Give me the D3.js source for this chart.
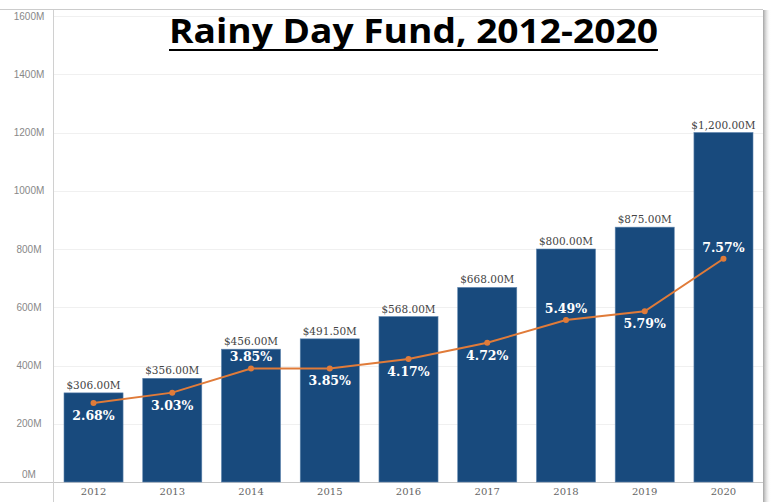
<!DOCTYPE html>
<html>
<head>
<meta charset="utf-8">
<script src="https://cdn.jsdelivr.net/npm/d3@7"></script>
<style>
  body { margin: 0; background: #fff; }
  svg { display: block; }
</style>
</head>
<body>
<svg id="chart" width="776" height="502"></svg>
<script>
const years = ['2012', '2013', '2014', '2015', '2016', '2017', '2018', '2019', '2020'];
const fundMillions = [306, 356, 456, 491.5, 568, 668, 800, 875, 1200];
const fundLabels = ['$306.00M', '$356.00M', '$456.00M', '$491.50M', '$568.00M', '$668.00M', '$800.00M', '$875.00M', '$1,200.00M'];
const pctOfBudget = [2.68, 3.03, 3.85, 3.85, 4.17, 4.72, 5.49, 5.79, 7.57];
const pctLabels = ['2.68%', '3.03%', '3.85%', '3.85%', '4.17%', '4.72%', '5.49%', '5.79%', '7.57%'];
// years whose percent label sits above the line point
const pctAbove = ['2014', '2018', '2020'];
const yTicks = [0, 200, 400, 600, 800, 1000, 1200, 1400, 1600];

const svg = d3.select('#chart');
const margin = { top: 16, right: 13, bottom: 20, left: 54 };
const width = 776, height = 502;

const x = d3.scaleBand()
  .domain(years)
  .range([margin.left, width - margin.right])
  .paddingInner(0.25)
  .paddingOuter(0.127);

const y = d3.scaleLinear()
  .domain([0, 1600])
  .range([height - margin.bottom, margin.top]);

const yPct = d3.scaleLinear()
  .domain([0, 15.8])
  .range([height - margin.bottom, margin.top]);

// shadow on the right edge
const defs = svg.append('defs');
const grad = defs.append('linearGradient').attr('id', 'shadow');
grad.append('stop').attr('offset', '0%').attr('stop-color', '#999').attr('stop-opacity', 0.9);
grad.append('stop').attr('offset', '100%').attr('stop-color', '#fff').attr('stop-opacity', 0);
svg.append('rect')
  .attr('x', width - margin.right).attr('y', 10)
  .attr('width', 8).attr('height', height - 10)
  .attr('fill', 'url(#shadow)');

// top frame line
svg.append('line')
  .attr('x1', 0).attr('x2', width - margin.right)
  .attr('y1', 9.5).attr('y2', 9.5)
  .attr('stroke', '#ccc');

// gridlines
svg.append('g')
  .selectAll('line')
  .data(yTicks.slice(1))
  .join('line')
  .attr('x1', margin.left).attr('x2', width - margin.right)
  .attr('y1', d => Math.round(y(d)) + 0.5).attr('y2', d => Math.round(y(d)) + 0.5)
  .attr('stroke', '#f0f0f0');

// y axis labels
const yAxis = svg.append('g')
  .attr('transform', `translate(${margin.left},0)`)
  .call(d3.axisLeft(y).tickValues(yTicks).tickFormat(d => d + 'M').tickSize(0).tickPadding(0));
yAxis.select('.domain').remove();
yAxis.selectAll('text')
  .attr('x', -25)
  .attr('text-anchor', 'middle')
  .attr('dy', d => d === 0 ? '-0.5em' : '0.32em')
  .attr('fill', '#888')
  .style('font-family', 'Liberation Sans, Arial, sans-serif')
  .style('font-size', '10px');

// x axis labels
const xAxis = svg.append('g')
  .attr('transform', `translate(0,${height - margin.bottom})`)
  .call(d3.axisBottom(x).tickSize(0).tickPadding(6));
xAxis.select('.domain').remove();
xAxis.selectAll('text')
  .attr('fill', '#666')
  .style('font-family', 'DejaVu Serif, serif')
  .style('font-size', '10px');

// axis lines
svg.append('line')
  .attr('x1', 0).attr('x2', width - margin.right)
  .attr('y1', y(0) + 0.5).attr('y2', y(0) + 0.5)
  .attr('stroke', '#c8c8c8');
svg.append('line')
  .attr('x1', margin.left - 0.5).attr('x2', margin.left - 0.5)
  .attr('y1', 10).attr('y2', height)
  .attr('stroke', '#d0d0d0');

// bars
svg.append('g')
  .selectAll('rect')
  .data(years)
  .join('rect')
  .attr('x', d => x(d))
  .attr('width', x.bandwidth())
  .attr('y', (d, i) => y(fundMillions[i]))
  .attr('height', (d, i) => y(0) - y(fundMillions[i]))
  .attr('fill', '#184a7d')
  .attr('stroke', '#5e84ad')
  .attr('stroke-width', 0.6);

// bar value labels
svg.append('g')
  .selectAll('text')
  .data(years)
  .join('text')
  .attr('x', d => x(d) + x.bandwidth() / 2)
  .attr('y', (d, i) => y(fundMillions[i]) - 4)
  .attr('text-anchor', 'middle')
  .attr('fill', '#444')
  .style('font-family', 'DejaVu Serif, serif')
  .style('font-size', '10.5px')
  .text((d, i) => fundLabels[i]);

// percent line
const line = d3.line()
  .x((d, i) => x(years[i]) + x.bandwidth() / 2)
  .y(d => yPct(d));

svg.append('path')
  .datum(pctOfBudget)
  .attr('fill', 'none')
  .attr('stroke', '#e07b39')
  .attr('stroke-width', 2)
  .attr('d', line);

svg.append('g')
  .selectAll('circle')
  .data(pctOfBudget)
  .join('circle')
  .attr('cx', (d, i) => x(years[i]) + x.bandwidth() / 2)
  .attr('cy', d => yPct(d))
  .attr('r', 3)
  .attr('fill', '#e07b39');

// percent labels
svg.append('g')
  .selectAll('text')
  .data(pctOfBudget)
  .join('text')
  .attr('x', (d, i) => x(years[i]) + x.bandwidth() / 2)
  .attr('y', (d, i) => yPct(d) + (pctAbove.includes(years[i]) ? -7 : 17))
  .attr('text-anchor', 'middle')
  .attr('fill', '#fff')
  .style('font-family', 'DejaVu Serif, serif')
  .style('font-weight', 'bold')
  .style('font-size', '12.5px')
  .text((d, i) => pctLabels[i]);

// title
svg.append('text')
  .attr('x', 169)
  .attr('y', 43)
  .attr('textLength', 489)
  .attr('lengthAdjust', 'spacingAndGlyphs')
  .attr('fill', '#000')
  .style('font-family', 'Open Sans, sans-serif')
  .style('font-weight', 'bold')
  .style('font-size', '34px')
  .text('Rainy Day Fund, 2012-2020');

svg.append('line')
  .attr('x1', 169).attr('x2', 658)
  .attr('y1', 50).attr('y2', 50)
  .attr('stroke', '#000')
  .attr('stroke-width', 2.2);
</script>
</body>
</html>
